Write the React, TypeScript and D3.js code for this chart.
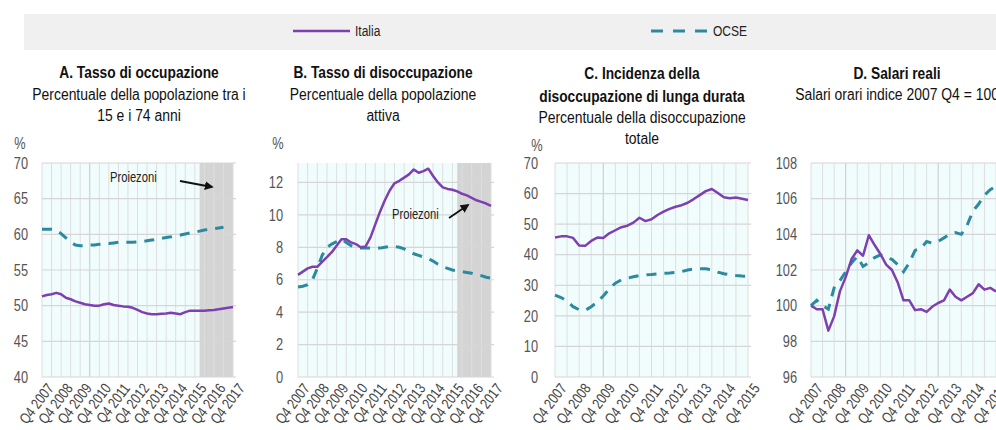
import React from "react";
import * as d3 from "d3";

// ---------- DATA ----------
const ticksLong = ["Q4 2007","Q4 2008","Q4 2009","Q4 2010","Q4 2011","Q4 2012","Q4 2013","Q4 2014","Q4 2015","Q4 2016","Q4 2017"];
const ticksShort = ["Q4 2007","Q4 2008","Q4 2009","Q4 2010","Q4 2011","Q4 2012","Q4 2013","Q4 2014","Q4 2015"];

const italiaA = [51.3,51.5,51.6,51.8,51.6,51.1,50.9,50.6,50.4,50.2,50.1,50.0,50.0,50.2,50.3,50.1,50.0,49.9,49.85,49.7,49.4,49.1,48.9,48.8,48.8,48.85,48.9,49.0,48.9,48.8,49.1,49.3,49.3,49.3,49.3,49.35,49.4,49.5,49.6,49.7,49.8];
const ocseA = [60.7,60.7,60.7,60.6,60.1,59.5,58.9,58.5,58.4,58.4,58.5,58.5,58.6,58.7,58.7,58.8,58.9,58.9,58.9,58.9,58.95,59.0,59.1,59.2,59.3,59.45,59.55,59.65,59.8,59.9,60.05,60.2,60.3,60.45,60.6,60.7,60.8,60.9,61.0];

const italiaB = [6.3,6.5,6.7,6.8,6.8,7.1,7.4,7.7,8.1,8.5,8.5,8.3,8.2,8.0,8.05,8.6,9.4,10.2,10.9,11.5,11.95,12.1,12.3,12.5,12.8,12.6,12.7,12.85,12.4,12.0,11.7,11.6,11.55,11.45,11.3,11.2,11.05,10.9,10.8,10.7,10.55];
const ocseB = [5.55,5.6,5.7,6.0,6.7,7.5,8.0,8.2,8.35,8.5,8.3,8.1,8.0,7.95,7.95,7.95,7.95,7.95,8.0,8.05,8.05,8.0,7.9,7.75,7.6,7.5,7.4,7.3,7.15,6.95,6.8,6.7,6.6,6.55,6.5,6.45,6.4,6.3,6.25,6.15,6.1];

const italiaC = [45.6,46.0,46.0,45.5,43.0,42.9,44.5,45.6,45.5,47.0,48.0,49.0,49.5,50.5,52.1,51.0,51.6,53.0,54.1,55.0,55.7,56.2,57.0,58.2,59.5,60.8,61.5,60.2,58.8,58.5,58.7,58.3,57.9];
const ocseC = [26.8,26.0,24.8,23.0,22.0,21.8,23.0,24.5,26.5,28.8,30.7,31.8,32.3,32.8,33.2,33.4,33.5,33.7,33.9,34.0,34.2,34.5,35.0,35.3,35.4,35.4,35.1,34.3,33.8,33.5,33.2,33.0,32.9];

const italiaD = [100.0,99.8,99.8,98.6,99.4,100.8,101.6,102.6,103.1,102.8,103.95,103.4,102.9,102.3,102.0,101.3,100.3,100.3,99.75,99.8,99.65,99.95,100.15,100.3,100.9,100.5,100.3,100.5,100.7,101.2,100.9,101.0,100.8];
const ocseD = [100.0,100.3,100.0,99.8,101.0,101.4,101.9,102.4,102.75,102.2,102.4,102.7,102.85,102.7,102.6,102.3,101.9,102.4,103.1,103.2,103.6,103.5,103.6,103.8,104.0,104.1,104.0,104.5,105.3,105.7,106.2,106.5,106.7];

const yTicksA = [40,45,50,55,60,65,70];
const yTicksB = [0,2,4,6,8,10,12];
const yTicksC = [0,10,20,30,40,50,60,70];
const yTicksD = [96,98,100,102,104,106,108];

const titlesA = ["A. Tasso di occupazione", "Percentuale della popolazione tra i", "15 e i 74 anni"];
const titlesB = ["B. Tasso di disoccupazione", "Percentuale della popolazione", "attiva"];
const titlesC = ["C. Incidenza della", "disoccupazione di lunga durata", "Percentuale della disoccupazione", "totale"];
const titlesD = ["D. Salari reali", "Salari orari indice 2007 Q4 = 100"];

const legendLabels = ["Italia", "OCSE"];
const projLabel = "Proiezoni";

// ---------- STYLE ----------
const PURPLE = "#7e3fb0";
const TEAL = "#2b8a9f";
const FONT = "'Liberation Sans', Arial, sans-serif";
const SX = 0.8; // horizontal condensing to mimic a narrow face
const GRID = "#dedede";
const BG = "#f1fdfd";

type TProps = {
  x: number; y: number; children: React.ReactNode; size: number; anchor?: string;
  weight?: string; fill?: string; rotate?: number; dy?: string; sx?: number;
};
function T({ x, y, children, size, anchor = "start", weight = "normal", fill = "#222", rotate = 0, dy, sx = SX }: TProps) {
  return (
    <text transform={`translate(${x},${y}) rotate(${rotate}) scale(${sx},1)`} textAnchor={anchor} dy={dy}
      fontSize={size} fontWeight={weight} fill={fill} fontFamily={FONT}>{children}</text>
  );
}

type PanelCfg = {
  left: number; right: number; top: number; bottom: number;
  yDomain: [number, number]; yTicks: number[]; n: number;
  tickLabels: string[]; shadeFrom?: number; italia: number[]; ocse: number[];
  titles: string[]; boldLines: number; titleX: number; titleY: number[];
  pctX?: number; pctY?: number; yLabelGap: number; darkGrid: number[];
  proj?: { tx: number; ty: number; x1: number; y1: number; x2: number; y2: number };
};

const panels: PanelCfg[] = [
  { left: 42, right: 233, top: 163, bottom: 377, yDomain: [40, 70], yTicks: yTicksA, n: 41,
    tickLabels: ticksLong, shadeFrom: 33, italia: italiaA, ocse: ocseA,
    titles: titlesA, boldLines: 1, titleX: 139, titleY: [78, 100, 121], pctX: 20, pctY: 149, yLabelGap: 14,
    darkGrid: [10], proj: { tx: 110, ty: 182, x1: 180, y1: 181, x2: 212, y2: 187 } },
  { left: 298, right: 491, top: 163, bottom: 377, yDomain: [0, 13.2], yTicks: yTicksB, n: 41,
    tickLabels: ticksLong, shadeFrom: 33, italia: italiaB, ocse: ocseB,
    titles: titlesB, boldLines: 1, titleX: 383, titleY: [78, 100, 121], pctX: 278, pctY: 149, yLabelGap: 15,
    darkGrid: [], proj: { tx: 392, ty: 219, x1: 449, y1: 218, x2: 468, y2: 205 } },
  { left: 555, right: 748, top: 163, bottom: 377, yDomain: [0, 70], yTicks: yTicksC, n: 33,
    tickLabels: ticksShort, italia: italiaC, ocse: ocseC,
    titles: titlesC, boldLines: 2, titleX: 642, titleY: [79, 102, 123, 144], pctX: 537, pctY: 151, yLabelGap: 17,
    darkGrid: [8] },
  { left: 811, right: 996, top: 163, bottom: 377, yDomain: [96, 108], yTicks: yTicksD, n: 33,
    tickLabels: ticksShort, italia: italiaD, ocse: ocseD,
    titles: titlesD, boldLines: 1, titleX: 897, titleY: [79, 100], yLabelGap: 14,
    darkGrid: [6, 22] },
];

function Panel({ p, idx }: { p: PanelCfg; idx: number }) {
  const x = d3.scaleLinear().domain([0, p.n - 1]).range([p.left, p.right]);
  const y = d3.scaleLinear().domain(p.yDomain).range([p.bottom, p.top]);
  const line = d3.line<number>().x((_, i) => x(i)).y((v) => y(v));
  const vgrid: number[] = [];
  for (let i = 0; i <= p.n - 1; i += 2) vgrid.push(i);
  const clipId = `clip${idx}`;
  return (
    <g>
      <defs>
        <clipPath id={clipId}>
          <rect x={p.left - 2} y={p.top - 10} width={p.right - p.left + 4} height={p.bottom - p.top + 12} />
        </clipPath>
      </defs>
      <rect x={p.left} y={p.top} width={p.right - p.left} height={p.bottom - p.top} fill={BG} />
      {p.shadeFrom !== undefined && (
        <rect x={x(p.shadeFrom)} y={p.top} width={p.right - x(p.shadeFrom)} height={p.bottom - p.top} fill="#d4d4d4" />
      )}
      {vgrid.map((i) => (
        <line key={"v" + i} x1={x(i)} x2={x(i)} y1={p.top} y2={p.bottom}
          stroke={p.darkGrid.includes(i) ? "#c8c8c8" : GRID} strokeWidth={1} />
      ))}
      {p.yTicks.map((t) => (
        <line key={"h" + t} x1={p.left} x2={p.right + 3} y1={y(t)} y2={y(t)} stroke="#d6d6d6" strokeWidth={1.2} />
      ))}
      {p.yTicks.map((t) => (
        <T key={"yl" + t} x={p.left - p.yLabelGap} y={y(t)} dy="0.36em" anchor="end" size={16} fill="#555">{t}</T>
      ))}
      {p.tickLabels.map((lab, k) => (
        <T key={"xl" + k} x={x(k * 4) + 4} y={p.bottom + 5} rotate={-53} anchor="end" dy="0.7em"
          size={15} fill="#444">{lab}</T>
      ))}
      <g clipPath={`url(#${clipId})`}>
        <path d={line(p.ocse) || ""} fill="none" stroke={TEAL} strokeWidth={3} strokeDasharray="10 8" />
        <path d={line(p.italia) || ""} fill="none" stroke={PURPLE} strokeWidth={2.5} strokeLinejoin="round" />
      </g>
      {p.titles.map((t, k) => {
        const bold = k < p.boldLines;
        return (
          <T key={"t" + k} x={p.titleX} y={p.titleY[k]} anchor="middle" size={16}
            sx={bold ? 0.86 : 0.87} weight={bold ? "bold" : "normal"} fill="#111">{t}</T>
        );
      })}
      {p.pctX !== undefined && (
        <T x={p.pctX} y={p.pctY!} anchor="middle" size={16} fill="#555">%</T>
      )}
      {p.proj && (
        <g>
          <T x={p.proj.tx} y={p.proj.ty} size={14} fill="#222">{projLabel}</T>
          <line x1={p.proj.x1} y1={p.proj.y1} x2={p.proj.x2} y2={p.proj.y2} stroke="#111" strokeWidth={1.8}
            markerEnd="url(#arrowhead)" />
        </g>
      )}
    </g>
  );
}

export default function App() {
  return (
    <svg width={996} height={430} style={{ position: "absolute", left: 0, top: 0, display: "block" }}>
      <defs>
        <marker id="arrowhead" viewBox="0 0 10 10" refX="8" refY="5" markerWidth="5" markerHeight="5" orient="auto">
          <path d="M0,0 L10,5 L0,10 z" fill="#111" />
        </marker>
      </defs>
      <rect x={0} y={0} width={996} height={430} fill="#fff" />
      <rect x={24} y={14} width={972} height={36} fill="#f0f0f0" />
      <line x1={293} x2={350} y1={31} y2={31} stroke={PURPLE} strokeWidth={2.5} />
      <T x={355} y={31} dy="0.36em" size={15} fill="#222">{legendLabels[0]}</T>
      <line x1={651} x2={707} y1={31} y2={31} stroke={TEAL} strokeWidth={3} strokeDasharray="12 10" />
      <T x={713} y={31} dy="0.36em" size={15} fill="#222">{legendLabels[1]}</T>
      {panels.map((p, i) => <Panel key={i} p={p} idx={i} />)}
    </svg>
  );
}
